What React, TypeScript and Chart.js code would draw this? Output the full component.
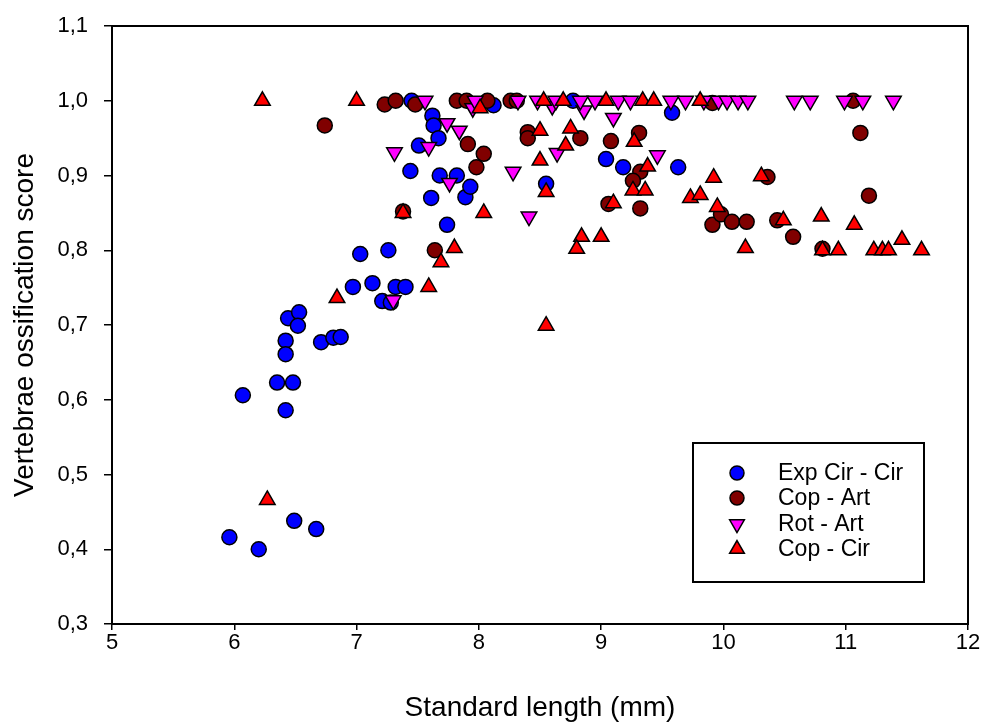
import React, { useEffect, useRef } from 'react';
import { Chart, registerables } from 'chart.js';
import { drawPoint } from 'chart.js/helpers';

Chart.register(...registerables);

// Exp Cir - Cir
const expCirX = [5.96, 6.20, 6.07, 6.35, 6.48, 6.42, 6.42, 6.42, 6.44, 6.53, 6.52, 6.49, 6.67, 6.71, 6.81, 6.87, 6.97, 7.03, 7.13, 7.26, 7.21, 7.28, 7.32, 7.40, 7.44, 7.51, 7.61, 7.62, 7.63, 7.67, 7.68, 7.74, 7.82, 7.89, 7.93, 8.12, 7.45, 8.55, 8.77, 9.04, 9.18, 9.63, 9.58];
const expCirY = [0.416, 0.400, 0.606, 0.623, 0.623, 0.586, 0.679, 0.661, 0.709, 0.717, 0.699, 0.438, 0.427, 0.677, 0.683, 0.684, 0.751, 0.795, 0.756, 0.800, 0.732, 0.730, 0.751, 0.751, 0.906, 0.940, 0.870, 0.980, 0.967, 0.950, 0.900, 0.834, 0.900, 0.871, 0.885, 0.994, 1.0, 0.889, 1.0, 0.922, 0.911, 0.911, 0.984];

// Cop - Art
const copArtX = [6.74, 7.23, 7.32, 7.48, 7.38, 7.64, 7.82, 7.90, 8.07, 8.26, 8.31, 7.91, 8.04, 7.98, 8.40, 8.40, 8.83, 9.08, 9.31, 9.32, 9.26, 9.06, 9.32, 9.91, 9.98, 10.07, 10.19, 10.36, 11.19, 10.44, 10.57, 10.81, 11.12, 9.91, 11.06];
const copArtY = [0.967, 0.995, 1.0, 0.995, 0.852, 0.800, 1.0, 1.0, 1.0, 1.0, 1.0, 0.942, 0.929, 0.911, 0.958, 0.950, 0.950, 0.946, 0.957, 0.905, 0.893, 0.862, 0.856, 0.834, 0.848, 0.838, 0.838, 0.898, 0.873, 0.840, 0.818, 0.802, 0.957, 0.997, 1.0];

// Rot - Art
const rotArtX = [7.30, 7.31, 7.59, 7.74, 7.84, 7.76, 8.28, 8.41, 8.64, 9.46, 9.10, 8.86, 7.95, 8.60, 7.56, 7.97, 8.32, 8.48, 8.63, 8.83, 8.95, 9.14, 9.24, 9.57, 9.69, 9.84, 9.96, 10.03, 10.12, 10.20, 10.58, 10.71, 10.99, 11.14, 11.39];
const rotArtY = [0.733, 0.931, 0.938, 0.970, 0.960, 0.890, 0.905, 0.845, 0.930, 0.927, 0.977, 0.987, 0.990, 0.993, 1.0, 1.0, 1.0, 1.0, 1.0, 1.0, 1.0, 1.0, 1.0, 1.0, 1.0, 1.0, 1.0, 1.0, 1.0, 1.0, 1.0, 1.0, 1.0, 1.0, 1.0];

// Cop - Cir
const copCirX = [6.23, 7.00, 6.27, 6.84, 7.59, 7.69, 7.80, 7.38, 8.04, 8.01, 8.53, 8.69, 9.04, 9.34, 9.43, 9.81, 8.50, 8.50, 8.55, 8.55, 8.75, 8.71, 9.27, 9.38, 9.26, 9.36, 9.10, 9.92, 9.73, 9.81, 9.95, 10.31, 8.84, 9.00, 8.80, 10.18, 10.49, 10.80, 11.07, 10.81, 10.94, 11.23, 11.30, 11.35, 11.46, 11.62];
const copCirY = [1.0, 1.0, 0.466, 0.736, 0.751, 0.784, 0.803, 0.850, 0.850, 0.990, 1.0, 1.0, 1.0, 1.0, 1.0, 1.0, 0.960, 0.920, 0.878, 0.699, 0.963, 0.940, 0.945, 0.912, 0.880, 0.880, 0.863, 0.897, 0.870, 0.874, 0.858, 0.899, 0.818, 0.818, 0.802, 0.803, 0.840, 0.845, 0.834, 0.800, 0.800, 0.800, 0.800, 0.800, 0.814, 0.800];

const seriesNames = ['Exp Cir - Cir', 'Cop - Art', 'Rot - Art', 'Cop - Cir'];
const seriesColors = ['#0000FF', '#800000', '#FF00FF', '#FF0000'];
const seriesStyles = ['circle', 'circle', 'triangle', 'triangle'];
const seriesRotation = [0, 0, 180, 0];

const xMin = 5, xMax = 12, xStep = 1;
const yMin = 0.3, yMax = 1.1, yStep = 0.1;
const xTitle = 'Standard length (mm)';
const yTitle = 'Vertebrae ossification score';

const FONT = '"Liberation Sans", Arial, sans-serif';

const toPoints = (xs: number[], ys: number[]) => xs.map((x, i) => ({ x, y: ys[i] }));

const framePlugin = {
  id: 'frame',
  afterDraw(chart: any) {
    const { ctx, chartArea } = chart;
    ctx.save();
    ctx.strokeStyle = '#000';
    ctx.lineWidth = 2;
    ctx.strokeRect(chartArea.left, chartArea.top, chartArea.right - chartArea.left, chartArea.bottom - chartArea.top);
    ctx.restore();
  },
};

const legendPlugin = {
  id: 'boxLegend',
  afterDraw(chart: any) {
    const { ctx } = chart;
    const boxL = 693, boxT = 443, boxW = 231, boxH = 139;
    ctx.save();
    ctx.fillStyle = '#fff';
    ctx.fillRect(boxL, boxT, boxW, boxH);
    ctx.strokeStyle = '#000';
    ctx.lineWidth = 2;
    ctx.strokeRect(boxL, boxT, boxW, boxH);
    const rows = [473, 498, 524, 549];
    ctx.font = `23px ${FONT}`;
    ctx.textBaseline = 'middle';
    ctx.textAlign = 'left';
    chart.data.datasets.forEach((ds: any, i: number) => {
      ctx.fillStyle = ds.backgroundColor;
      ctx.strokeStyle = '#000';
      ctx.lineWidth = 1.5;
      drawPoint(ctx, {
        pointStyle: ds.pointStyle,
        rotation: ds.rotation,
        radius: ds.pointStyle === 'circle' ? 7 : 8.5,
        borderWidth: 1.5,
      } as any, 737, rows[i]);
      ctx.fillStyle = '#000';
      ctx.fillText(ds.label, 778, rows[i] + 1);
    });
    ctx.restore();
  },
};

export default function App() {
  const ref = useRef<HTMLCanvasElement>(null);

  useEffect(() => {
    if (!ref.current) return;
    const allX = [expCirX, copArtX, rotArtX, copCirX];
    const allY = [expCirY, copArtY, rotArtY, copCirY];
    const datasets = seriesNames.map((name, i) => ({
      label: name,
      data: toPoints(allX[i], allY[i]),
      backgroundColor: seriesColors[i],
      borderColor: '#000',
      borderWidth: 1.5,
      pointStyle: seriesStyles[i],
      rotation: seriesRotation[i],
      pointRadius: seriesStyles[i] === 'circle' ? 7.5 : 9,
      pointHoverRadius: seriesStyles[i] === 'circle' ? 7.5 : 9,
      order: 4 - i,
      clip: false as any,
    }));

    const chart = new Chart(ref.current, {
      type: 'scatter',
      data: { datasets },
      options: {
        responsive: false,
        animation: false,
        layout: { padding: { top: 26, right: 16, left: 0, bottom: 0 } },
        plugins: {
          legend: { display: false },
          tooltip: { enabled: false },
        },
        scales: {
          x: {
            type: 'linear',
            min: xMin,
            max: xMax,
            ticks: {
              stepSize: xStep,
              color: '#000',
              font: { family: FONT, size: 22 },
              padding: 0,
            },
            grid: { display: true, drawOnChartArea: false, drawTicks: true, tickLength: 6, color: '#000', lineWidth: 1.5 },
            border: { display: true, color: '#000', width: 2 },
            title: {
              display: true,
              text: xTitle,
              color: '#000',
              font: { family: FONT, size: 28, lineHeight: 1 },
              padding: { top: 0, bottom: 0 },
            },
            afterFit: (scale: any) => {
              scale.height = 98;
              scale.paddingLeft = 0;
              scale.paddingRight = 0;
            },
          },
          y: {
            type: 'linear',
            min: yMin,
            max: yMax,
            ticks: {
              stepSize: yStep,
              color: '#000',
              font: { family: FONT, size: 22 },
              padding: 16,
              callback: (v: any) => Number(v).toFixed(1).replace('.', ','),
            },
            grid: { display: true, drawOnChartArea: false, drawTicks: true, tickLength: 8, color: '#000', lineWidth: 1.5 },
            border: { display: true, color: '#000', width: 2 },
            title: {
              display: true,
              text: yTitle,
              color: '#000',
              font: { family: FONT, size: 28, lineHeight: 1 },
              padding: { top: 11, bottom: 0 },
            },
            afterFit: (scale: any) => {
              scale.width = 112;
              scale.paddingTop = 0;
              scale.paddingBottom = 0;
            },
          },
        },
      },
      plugins: [framePlugin, legendPlugin],
    });
    return () => chart.destroy();
  }, []);

  return (
    <div style={{ position: 'absolute', left: 0, top: 0, width: 984, height: 722, background: '#fff' }}>
      <canvas ref={ref} width={984} height={722} style={{ display: 'block' }} />
    </div>
  );
}
